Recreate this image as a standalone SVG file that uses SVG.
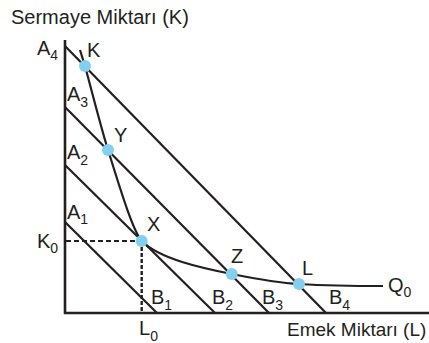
<svg xmlns="http://www.w3.org/2000/svg" width="429" height="343" viewBox="0 0 429 343">
<style>
text{font-family:"Liberation Sans",Arial,sans-serif;fill:#231f20;font-size:20px}
.sub{font-size:14px}
.ln{stroke:#231f20;stroke-width:2.2;fill:none}
.ax{stroke:#231f20;stroke-width:2.6;fill:none}
.dot{fill:#82cff0}
</style>
<rect width="429" height="343" fill="#fff"/>
<g id="axes">
<line class="ax" x1="65" y1="40" x2="65" y2="314"/>
<line class="ax" x1="64" y1="313" x2="429" y2="313"/>
<text x="11" y="24">Sermaye Miktarı (K)</text>
<text x="287" y="336" style="font-size:19px">Emek Miktarı (L)</text>
</g>
<g id="connectors">
<line class="ln" x1="65" y1="222" x2="157" y2="313"/>
<line class="ln" x1="65" y1="165" x2="215" y2="313"/>
<line class="ln" x1="65" y1="107" x2="269" y2="313"/>
<line class="ln" x1="65" y1="46" x2="326" y2="313"/>
<path class="ln" d="M80,50 L85,66 C92.6,94 100,124 108,150 C118,181 131.7,229 141.7,241 C159.7,259 201.7,268 231.7,274 C254,278.5 277,283 299,284 C325,285.5 355,286 383,286"/>
<line stroke="#231f20" stroke-width="1.8" stroke-dasharray="5,3" x1="66" y1="241" x2="141" y2="241"/>
<line stroke="#231f20" stroke-width="2.4" stroke-dasharray="4,2" x1="141.7" y1="241" x2="141.7" y2="312"/>
</g>
<g id="labels-A">
<text x="37" y="55">A<tspan class="sub" dy="5">4</tspan></text>
<text x="67" y="101">A<tspan class="sub" dy="6">3</tspan></text>
<text x="67" y="159">A<tspan class="sub" dy="6">2</tspan></text>
<text x="67" y="219">A<tspan class="sub" dy="5">1</tspan></text>
<text x="37" y="248">K<tspan class="sub" dy="5">0</tspan></text>
</g>
<g id="labels-B">
<text x="151" y="304">B<tspan class="sub" dy="6">1</tspan></text>
<text x="212" y="304">B<tspan class="sub" dy="6">2</tspan></text>
<text x="262" y="304">B<tspan class="sub" dy="6">3</tspan></text>
<text x="329" y="304">B<tspan class="sub" dy="6">4</tspan></text>
<text x="139" y="335">L<tspan class="sub" dy="6">0</tspan></text>
<text x="388" y="292">Q<tspan class="sub" dy="5">0</tspan></text>
</g>
<g id="node-K"><circle class="dot" cx="85" cy="66" r="6"/><text x="87" y="57">K</text></g>
<g id="node-Y"><circle class="dot" cx="108" cy="150" r="6"/><text x="114" y="142">Y</text></g>
<g id="node-X"><circle class="dot" cx="141.7" cy="241" r="6"/><text x="147" y="231">X</text></g>
<g id="node-Z"><circle class="dot" cx="231.7" cy="274" r="6"/><text x="231" y="263">Z</text></g>
<g id="node-L"><circle class="dot" cx="299" cy="284" r="6"/><text x="302" y="275">L</text></g>
</svg>
